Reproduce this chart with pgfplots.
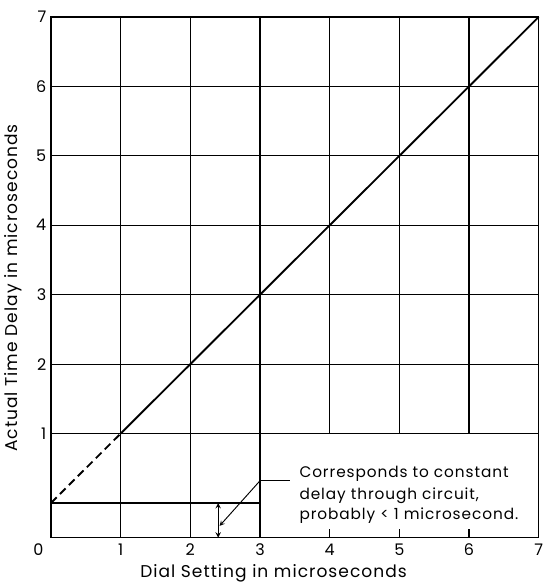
\documentclass[border=0pt]{standalone}
\usepackage{fontspec}
\setmainfont{Poppins}[LetterSpace=6]
\usepackage{pgfplots}
\pgfplotsset{compat=1.18}
\newcommand{\lbl}{\fontsize{11.5}{13}\selectfont}
\newcommand{\axl}{\fontsize{12.8}{14}\selectfont}
\begin{document}
\begin{tikzpicture}
\begin{axis}[
  scale only axis, width=366pt, height=390.75pt,
  xmin=0, xmax=7, ymin=-0.5, ymax=7,
  xtick={1,2,3,4,5,6,7}, ytick={1,2,3,4,5,6,7},
  extra x ticks={0},
  extra x tick style={xticklabel style={xshift=-9.5pt}},
  major tick length=0pt,
  /pgf/number format/assume math mode=true,
  tick label style={font=\fontsize{12}{13}\selectfont},
  xticklabel style={yshift=-1pt},
  label style={font=\axl},
  xlabel={Dial Setting in microseconds},
  ylabel={Actual Time Delay in microseconds},
  xlabel style={yshift=0pt, xshift=-16pt},
  ylabel style={yshift=4pt, xshift=-8pt},
  axis line style={line width=1pt},
  clip=false,
]
% full-height vertical grid lines
\addplot[line width=0.9pt] coordinates {(1,-0.5)(1,7)};
\addplot[line width=0.9pt] coordinates {(2,-0.5)(2,7)};
\addplot[line width=0.9pt] coordinates {(3,-0.5)(3,7)};
% partial vertical grid lines
\addplot[line width=0.9pt] coordinates {(4,1)(4,7)};
\addplot[line width=0.9pt] coordinates {(5,1)(5,7)};
\addplot[line width=0.9pt] coordinates {(6,1)(6,7)};
% bottom tick stubs
\addplot[line width=0.9pt] coordinates {(4,-0.5)(4,-0.37)};
\addplot[line width=0.9pt] coordinates {(5,-0.5)(5,-0.37)};
\addplot[line width=0.9pt] coordinates {(6,-0.5)(6,-0.37)};
% horizontal grid lines
\addplot[line width=0.9pt] coordinates {(0,1)(7,1)};
\addplot[line width=0.9pt] coordinates {(0,2)(7,2)};
\addplot[line width=0.9pt] coordinates {(0,3)(7,3)};
\addplot[line width=0.9pt] coordinates {(0,4)(7,4)};
\addplot[line width=0.9pt] coordinates {(0,5)(7,5)};
\addplot[line width=0.9pt] coordinates {(0,6)(7,6)};
% constant delay line
\addplot[line width=0.9pt] coordinates {(0,0)(3,0)};
% calibration line
\addplot[line width=1.4pt, dash pattern=on 6pt off 3.5pt] coordinates {(0,0)(1,1)};
\addplot[line width=1.4pt] coordinates {(1,1)(7,7)};
% double arrow
\addplot[line width=0.8pt, <->, >=stealth] coordinates {(2.40,0)(2.40,-0.5)};
% leader
\addplot[line width=0.7pt, ->, >=stealth] coordinates {(3,0.32)(2.42,-0.33)};
\addplot[line width=0.7pt] coordinates {(3,0.32)(3.43,0.32)};
\node[anchor=base west, font=\lbl] at (axis cs:3.5,0.37) {Corresponds to constant};
\node[anchor=base west, font=\lbl] at (axis cs:3.5,0.05) {delay through circuit,};
\node[anchor=base west, font=\lbl] at (axis cs:3.5,-0.24) {probably < 1 microsecond.};
\coordinate (ll) at (rel axis cs:0,0);
\coordinate (ur) at (rel axis cs:1,1);
\end{axis}
\pgfresetboundingbox
\path ([shift={(-38.25pt,-35.5pt)}]ll) rectangle ([shift={(4pt,12.75pt)}]ur);
\end{tikzpicture}
\end{document}
